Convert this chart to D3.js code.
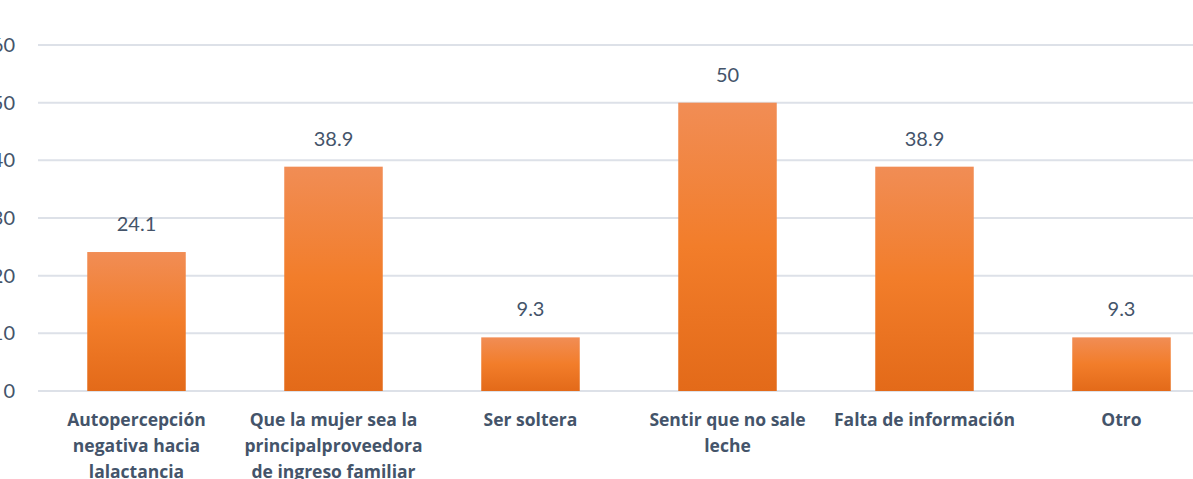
<!DOCTYPE html>
<html>
<head>
<meta charset="utf-8">
<script src="https://cdn.jsdelivr.net/npm/d3@7"></script>
<style>
  body { margin: 0; background: #fff; }
  svg { display: block; }
</style>
</head>
<body>
<svg id="chart" width="1193" height="479"></svg>
<script>
// data
var categories = [
    ["Autopercepción", "negativa hacia", "lalactancia"],
    ["Que la mujer sea la", "principalproveedora", "de ingreso familiar"],
    ["Ser soltera"],
    ["Sentir que no sale", "leche"],
    ["Falta de información"],
    ["Otro"]
];
var values = [24.1, 38.9, 9.3, 50, 38.9, 9.3];
var yTicks = [0, 10, 20, 30, 40, 50, 60];

var svg = d3.select("#chart");

var x = d3.scaleBand()
    .domain(d3.range(values.length))
    .range([38, 1220])
    .paddingInner(0.5)
    .paddingOuter(0.25);

var y = d3.scaleLinear()
    .domain([0, 60])
    .range([391, 45]);

// bar gradient
var grad = svg.append("defs").append("linearGradient")
    .attr("id", "barGrad")
    .attr("x1", 0).attr("y1", 0).attr("x2", 0).attr("y2", 1);
grad.append("stop").attr("offset", "0%").attr("stop-color", "#F18D55");
grad.append("stop").attr("offset", "50%").attr("stop-color", "#F27D2A");
grad.append("stop").attr("offset", "100%").attr("stop-color", "#E36A19");

//gridlines
svg.append("g")
    .selectAll("line")
    .data(yTicks)
    .enter()
    .append("line")
    .attr("x1", 38)
    .attr("x2", 1193)
    .attr("y1", function(d) { return y(d); })
    .attr("y2", function(d) { return y(d); })
    .attr("stroke", "#DDE1E8")
    .attr("stroke-width", 2);

// y tick labels, left part cut by the frame as in the picture
svg.append("g")
    .selectAll("text")
    .data(yTicks)
    .enter()
    .append("text")
    .attr("x", 15)
    .attr("y", function(d) { return y(d); })
    .attr("dy", "0.35em")
    .attr("text-anchor", "end")
    .attr("font-family", "Lato, 'Open Sans', sans-serif")
    .attr("font-size", "20px")
    .attr("fill", "#44546A")
    .text(function(d) { return d; });

//bars
svg.append("g")
    .selectAll("rect")
    .data(values)
    .enter()
    .append("rect")
    .attr("x", function(d, i) { return x(i); })
    .attr("y", function(d) { return y(d); })
    .attr("width", x.bandwidth())
    .attr("height", function(d) { return y(0) - y(d); })
    .attr("fill", "url(#barGrad)");

//value labels
svg.append("g")
    .selectAll("text")
    .data(values)
    .enter()
    .append("text")
    .attr("x", function(d, i) { return x(i) + x.bandwidth() / 2; })
    .attr("y", function(d) { return y(d) - 21; })
    .attr("text-anchor", "middle")
    .attr("font-family", "Lato, 'Open Sans', sans-serif")
    .attr("font-size", "20px")
    .attr("fill", "#44546A")
    .text(function(d) { return d; });

//category labels
var cat = svg.append("g")
    .selectAll("text")
    .data(categories)
    .enter()
    .append("text")
    .attr("x", function(d, i) { return x(i) + x.bandwidth() / 2; })
    .attr("y", 426)
    .attr("text-anchor", "middle")
    .attr("font-family", "'Open Sans', Lato, sans-serif")
    .attr("font-size", "17.5px")
    .attr("font-weight", "bold")
    .attr("fill", "#44546A");

cat.selectAll("tspan")
    .data(function(d) { return d; })
    .enter()
    .append("tspan")
    .attr("x", function() { return d3.select(this.parentNode).attr("x"); })
    .attr("dy", function(d, i) { return i === 0 ? 0 : 26; })
    .text(function(d) { return d; });
</script>
</body>
</html>
